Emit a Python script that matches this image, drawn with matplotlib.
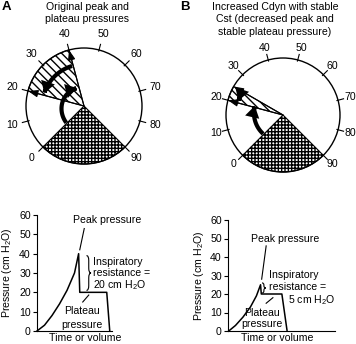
import numpy as np
import matplotlib
matplotlib.use('Agg')
import matplotlib.pyplot as plt
from matplotlib.patches import Circle, Wedge, FancyArrowPatch, PathPatch
from matplotlib.path import Path

plt.rcParams['font.family'] = ['Liberation Sans', 'DejaVu Sans']
plt.rcParams['mathtext.fontset'] = 'custom'
plt.rcParams['mathtext.rm'] = 'Liberation Sans'
plt.rcParams['mathtext.it'] = 'Liberation Sans:italic'
plt.rcParams['hatch.linewidth'] = 1.0

FS = 7.6
W, H = 356, 344

# dial scale
dial_ticks = list(range(0, 100, 10))
dial_lo, dial_hi = 0, 90

# panel A (original) and B (increased Cdyn, stable Cst)
peak = [40, 25]
plateau = [20, 20]
rise_end = [38, 21]
titles = ['Original peak and\nplateau pressures',
          'Increased Cdyn with stable\nCst (decreased peak and\nstable plateau pressure)']
panel_letters = ['A', 'B']

# pressure traces
t_a = [0, 1, 2, 3, 4, 5, 5.55, 5.7, 9.3, 9.7]
p_a = [0, 3, 8, 14, 21, 30, 40, 20, 20, 0]
t_b = [0.1, 1, 2, 3, 3.8, 4.35, 4.45, 7.2, 7.9]
p_b = [0, 3, 7.5, 13, 19, 25, 20, 20, 0]
resist_text = ['20 cm H$_2$O', '5 cm H$_2$O']

fig = plt.figure(figsize=(W / 100, H / 100), dpi=100)


def px_axes(x, y, w, h):
    return fig.add_axes([x / W, 1 - (y + h) / H, w / W, h / H])


def ftext(x, y, s, **kw):
    fig.text(x / W, 1 - y / H, s, **kw)


def dial_angle(v):
    # 0 sits at lower left, scale runs clockwise, 3 degrees per unit
    return 225 - 3 * np.asarray(v, dtype=float)


def arc(v0, v1, r0, r1, n=40):
    v = np.linspace(v0, v1, n)
    r = np.linspace(r0, r1, n)
    a = np.radians(dial_angle(v))
    return np.column_stack([r * np.cos(a), r * np.sin(a)])


def thick_arrow(ax, pts):
    ax.add_patch(FancyArrowPatch(path=Path(pts),
                                 arrowstyle='-|>,head_length=0.4,head_width=0.25',
                                 mutation_scale=10, lw=3.0, color='k',
                                 joinstyle='miter', capstyle='butt'))


def draw_gauge(cx, cy, r, pk, pl, rise_v, fall_r, rise_r, lab_r):
    S = 1.45
    ax = px_axes(cx - S * r, cy - S * r, 2 * S * r, 2 * S * r)
    ax.set_xlim(-S, S)
    ax.set_ylim(-S, S)
    ax.axis('off')

    ax.add_patch(Wedge((0, 0), 1, float(dial_angle(dial_lo)), float(dial_angle(dial_hi)) + 360,
                       fc='white', ec='black', hatch='+++++', lw=0.8))
    ax.add_patch(Wedge((0, 0), 1, float(dial_angle(pk)), float(dial_angle(pl)),
                       fc='white', ec='black', hatch='\\\\\\\\', lw=0.8))
    ax.add_patch(Circle((0, 0), 1, fill=False, lw=1.0))

    for v in dial_ticks:
        a = np.radians(dial_angle(v))
        ax.plot([0.98 * np.cos(a), 1.1 * np.cos(a)], [0.98 * np.sin(a), 1.1 * np.sin(a)],
                color='k', lw=0.8)
        ax.text(lab_r * np.cos(a), lab_r * np.sin(a), str(v), fontsize=FS,
                ha='center', va='center')

    # needles at peak and plateau
    for v in (pk, pl):
        a = np.radians(dial_angle(v))
        ax.add_patch(FancyArrowPatch((0, 0), (np.cos(a), np.sin(a)),
                                     arrowstyle='-|>,head_length=0.6,head_width=0.22',
                                     mutation_scale=10, lw=0.8, color='k',
                                     shrinkA=0, shrinkB=0))

    # peak falls back to plateau
    thick_arrow(ax, arc(pk - 0.5, pl + 1.0, fall_r, fall_r))
    # pressure rising from the floor of the dial
    thick_arrow(ax, arc(dial_lo + 0.5, rise_v, rise_r[0], rise_r[1]))


def brace(ax, x, y0, y1, w, h):
    ym = (y0 + y1) / 2
    verts = [(x, y1), (x + w / 2, y1), (x + w / 2, y1 - h), (x + w / 2, ym + h),
             (x + w / 2, ym), (x + w, ym), (x + w / 2, ym), (x + w / 2, ym - h),
             (x + w / 2, y0 + h), (x + w / 2, y0), (x, y0)]
    codes = [Path.MOVETO, Path.CURVE3, Path.CURVE3, Path.LINETO, Path.CURVE3, Path.CURVE3,
             Path.CURVE3, Path.CURVE3, Path.LINETO, Path.CURVE3, Path.CURVE3]
    ax.add_patch(PathPatch(Path(verts, codes), fill=False, lw=0.8, clip_on=False))


def draw_trace(x, y, w, h, t, p, xmax, xlab_pos, ylab_pos):
    ax = px_axes(x, y, w, h)
    ax.plot(t, p, color='k', lw=1.1, clip_on=False)
    ax.set_xlim(0, xmax)
    ax.set_ylim(0, 60)
    for s in ('top', 'right'):
        ax.spines[s].set_visible(False)
    for s in ('left', 'bottom'):
        ax.spines[s].set_linewidth(0.8)
    ax.set_yticks(range(0, 61, 10))
    ax.set_xticks([])
    ax.tick_params(axis='y', direction='out', length=3, width=0.8, labelsize=FS, pad=1.5)
    ax.set_ylabel('Pressure (cm H$_2$O)', fontsize=FS)
    ax.set_xlabel('Time or volume', fontsize=FS)
    ax.xaxis.set_label_coords(xlab_pos, -0.02)
    ax.yaxis.set_label_coords(ylab_pos, 0.5)
    ax.patch.set_visible(False)
    return ax


# gauges
draw_gauge(84, 106, 58, peak[0], plateau[0], rise_end[0], 0.72, (0.42, 0.33), 1.28)
draw_gauge(283, 115, 57, peak[1], plateau[1], rise_end[1], 0.82, (0.48, 0.52), 1.22)

ftext(2, 1, panel_letters[0], fontsize=9.5, fontweight='bold', va='top')
ftext(180, 1, panel_letters[1], fontsize=9.5, fontweight='bold', va='top')
ftext(87, 2, titles[0], fontsize=FS, ha='center', va='top', linespacing=1.3)
ftext(275, 2, titles[1], fontsize=FS, ha='center', va='top', linespacing=1.3)

# traces
ax_a = draw_trace(37, 215, 75, 116, t_a, p_a, 10, 0.64, -0.31)
ax_a.text(9.3, 57.5, 'Peak pressure', fontsize=FS, ha='center', va='center')
ax_a.plot([5.7, 6.3], [42, 53], color='k', lw=0.8, clip_on=False)
brace(ax_a, 6.6, 21, 39, 0.6, 2.5)
ax_a.text(7.5, 35.7, 'Inspiratory', fontsize=FS, ha='left', va='center')
ax_a.text(7.5, 30, 'resistance =', fontsize=FS, ha='left', va='center')
ax_a.text(7.5, 23.8, resist_text[0], fontsize=FS, ha='left', va='center')
ax_a.plot([6.9, 6.1], [18.6, 15], color='k', lw=0.8)
ax_a.text(6.0, 10.4, 'Plateau', fontsize=FS, ha='center', va='center')
ax_a.text(6.0, 3, 'pressure', fontsize=FS, ha='center', va='center')

ax_b = draw_trace(228, 220, 107, 111, t_b, p_b, 14.3, 0.46, -0.21)
ax_b.text(7.6, 49.7, 'Peak pressure', fontsize=FS, ha='center', va='center')
ax_b.plot([4.5, 5.1], [28, 46], color='k', lw=0.8)
brace(ax_b, 4.55, 20.5, 26, 0.5, 1.2)
ax_b.text(5.5, 30, 'Inspiratory', fontsize=FS, ha='left', va='center')
ax_b.text(5.5, 23.8, 'resistance =', fontsize=FS, ha='left', va='center')
ax_b.text(8.0, 16.8, resist_text[1], fontsize=FS, ha='left', va='center')
ax_b.plot([6.0, 5.1], [18, 15], color='k', lw=0.8)
ax_b.text(4.5, 10, 'Plateau', fontsize=FS, ha='center', va='center')
ax_b.text(4.5, 3.7, 'pressure', fontsize=FS, ha='center', va='center')

fig.savefig('out.png', dpi=100)
